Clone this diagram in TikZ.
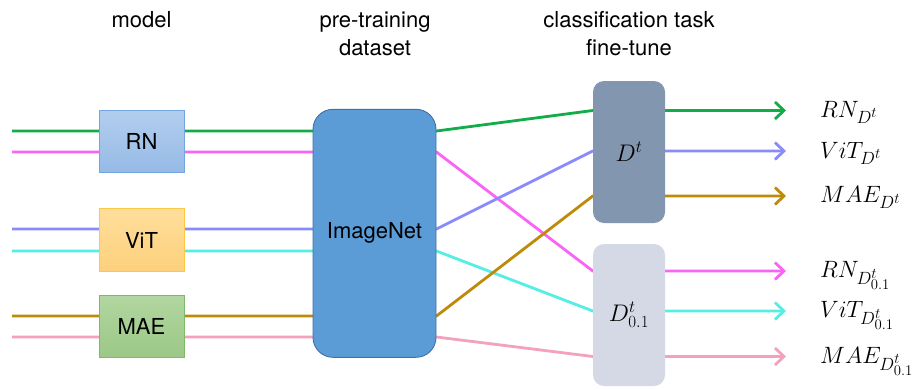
\RequirePackage{fix-cm}
\documentclass[tikz,border=0pt]{standalone}
\usepackage{fontspec}
\setmainfont{TeX Gyre Heros}
\usetikzlibrary{arrows.meta,backgrounds}

% math sizes for the large formula labels
\DeclareMathSizes{20}{20}{15}{12.5}
\DeclareMathSizes{24}{24}{17}{13}

% line colours, one per model/stream
\definecolor{cgreen}{RGB}{18,172,72}
\definecolor{cmagenta}{RGB}{250,100,245}
\definecolor{cblue}{RGB}{135,140,250}
\definecolor{ccyan}{RGB}{85,238,228}
\definecolor{cbrown}{RGB}{190,138,10}
\definecolor{cpink}{RGB}{245,160,190}
% box colours
\definecolor{rnfillA}{RGB}{178,206,238}
\definecolor{rnfillB}{RGB}{150,186,230}
\definecolor{rnline}{RGB}{115,165,222}
\definecolor{vitfillA}{RGB}{255,222,155}
\definecolor{vitfillB}{RGB}{253,208,125}
\definecolor{vitline}{RGB}{252,200,70}
\definecolor{maefillA}{RGB}{178,214,160}
\definecolor{maefillB}{RGB}{155,200,135}
\definecolor{maeline}{RGB}{130,185,105}
\definecolor{imgfill}{RGB}{92,156,214}
\definecolor{imgline}{RGB}{62,112,172}
\definecolor{dtfill}{RGB}{130,150,176}
\definecolor{dsfill}{RGB}{212,217,229}

% enlarged formula for the output labels
\newcommand{\biglabel}[1]{\scalebox{1.18}{$#1$}}

\begin{document}
\begin{tikzpicture}[x=1pt,y=-1pt,
  head/.style={align=center,font=\fontsize{22}{28}\selectfont,inner sep=0pt},
  modelbox/.style={draw,line width=0.9pt,minimum width=85pt,minimum height=62pt,
    inner sep=0pt,font=\fontsize{22}{26}\selectfont},
  databox/.style={draw=imgline,line width=0.9pt,fill=imgfill,rounded corners=20pt,
    minimum width=123pt,minimum height=248pt,inner sep=0pt,font=\fontsize{22}{26}\selectfont},
  tunebox/.style={rounded corners=11pt,minimum width=72pt,minimum height=142pt,
    inner sep=0pt,font=\fontsize{24}{28}\selectfont},
  outlabel/.style={anchor=base west,inner sep=0pt,font=\fontsize{20}{24}\selectfont},
  flow/.style={line width=2.8pt},
  arr/.style={-{Straight Barb[length=9pt,width=17pt,line width=2.8pt]}}
]
\useasboundingbox (0,0) rectangle (920,389);

% column headings
\node[head] (hmodel) at (141.5,20) {model};
\node[head] (hdata) at (375,34) {pre-training\\dataset};
\node[head] (htune) at (629,34) {classification task\\fine-tune};

% models
\node[modelbox,draw=rnline,top color=rnfillA,bottom color=rnfillB] (RN) at (141.5,141.3) {RN};
\node[modelbox,draw=vitline,top color=vitfillA,bottom color=vitfillB,minimum height=63pt] (ViT) at (141.5,240) {ViT};
\node[modelbox,draw=maeline,top color=maefillA,bottom color=maefillB] (MAE) at (141.5,326) {MAE};

% pre-training dataset
\node[databox] (IN) at (374.5,233.3) {ImageNet};

% fine-tune datasets
\node[tunebox,fill=dtfill] (Dt) at (629,152) {$D^t$};
\node[tunebox,fill=dsfill] (Ds) at (629,315) {$D^t_{0.1}$};

% stream entry points
\coordinate (iRNa) at (12,131);
\coordinate (iRNb) at (12,152);
\coordinate (iVTa) at (12,229);
\coordinate (iVTb) at (12,251);
\coordinate (iMAa) at (12,316);
\coordinate (iMAb) at (12,337);
% arrow ends
\coordinate (oRNa) at (786,110.5);
\coordinate (oVTa) at (786,151);
\coordinate (oMAa) at (786,196);
\coordinate (oRNb) at (786,271);
\coordinate (oVTb) at (786,311);
\coordinate (oMAb) at (786,356.5);

% output labels
\node[outlabel] (lRNa) at (820,117) {\biglabel{RN_{D^t}}};
\node[outlabel] (lVTa) at (820,158) {\biglabel{ViT_{D^t}}};
\node[outlabel] (lMAa) at (820,202.5) {\biglabel{MAE_{D^t}}};
\node[outlabel] (lRNb) at (820,277.5) {\biglabel{RN_{D^t_{0.1}}}};
\node[outlabel] (lVTb) at (820,317.5) {\biglabel{ViT_{D^t_{0.1}}}};
\node[outlabel] (lMAb) at (820,363) {\biglabel{MAE_{D^t_{0.1}}}};

% streams run behind the boxes
\begin{scope}[on background layer]
  \foreach \a/\b/\c/\col in {iRNa/oRNa/Dt/cgreen, iRNb/oRNb/Ds/cmagenta,
                             iVTa/oVTa/Dt/cblue, iVTb/oVTb/Ds/ccyan,
                             iMAa/oMAa/Dt/cbrown, iMAb/oMAb/Ds/cpink}{
    \draw[flow,draw=\col,arr] (\a) -- (\a -| IN.east) -- (\b -| \c.west) -- (\b);
  }
\end{scope}
\end{tikzpicture}
\end{document}
